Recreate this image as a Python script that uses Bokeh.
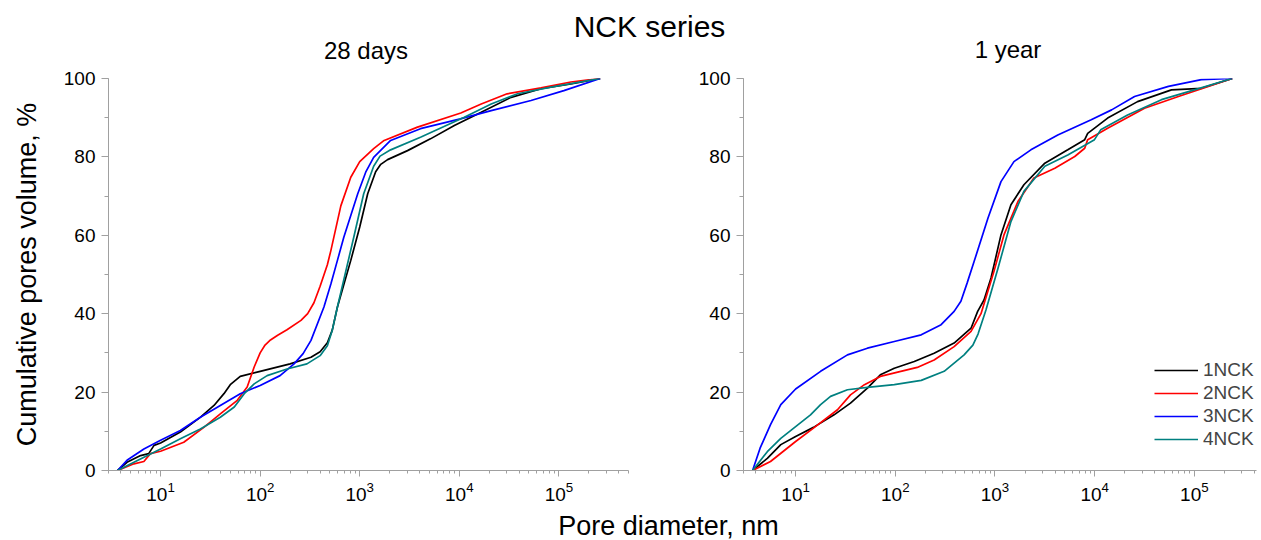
from bokeh.plotting import figure
from bokeh.models import Range1d, SingleIntervalTicker, Label, Legend, LegendItem
from bokeh.layouts import column, row
from bokeh.embed import file_html
from bokeh.resources import INLINE

FONT = "Liberation Sans"

series_names = ["1NCK", "2NCK", "3NCK", "4NCK"]
series_colors = ["#000000", "#ff0000", "#0000ff", "#008080"]

# ---------------- 28 days ----------------
d28_1NCK_d = [3.7, 4.6, 6.3, 7.6, 8.6, 10, 15.8, 25.2, 34.4, 43.3, 50.1, 63.1, 100, 200, 324, 400, 473, 530, 597, 813, 1000, 1202, 1445, 1626, 1905, 3020, 5129, 8913, 16596, 33113, 66069, 131826, 260000]
d28_1NCK_v = [0, 2.1, 3.8, 4.3, 6.4, 7.0, 9.8, 13.6, 16.6, 19.6, 21.9, 24.0, 25.3, 27.2, 28.9, 30.3, 32.6, 35.8, 41.7, 53.6, 62.1, 70.6, 76.2, 78.1, 79.3, 81.6, 84.6, 88.0, 91.4, 95.2, 97.4, 98.6, 100]

d28_2NCK_d = [3.7, 5.4, 6.8, 7.9, 10, 17.1, 27.2, 40.1, 58.9, 74.1, 87.1, 100, 112, 127, 150, 186, 257, 300, 347, 400, 473, 513, 646, 813, 1000, 1380, 1758, 3802, 10351, 16596, 30200, 66069, 131826, 208930, 260000]
d28_2NCK_v = [0, 1.7, 2.3, 4.3, 4.9, 7.2, 11.0, 14.5, 17.9, 21.3, 26.4, 30.0, 32.0, 33.3, 34.5, 35.9, 38.3, 40.0, 42.8, 47.0, 52.5, 56.1, 67.5, 74.8, 78.8, 82.1, 84.2, 87.6, 91.2, 93.5, 96.1, 97.6, 99.1, 99.7, 100]

d28_3NCK_d = [3.7, 4.6, 6.8, 10, 15.8, 25.1, 39.8, 63.1, 100, 158.5, 219, 270, 324, 437, 513, 597, 692, 955, 1148, 1380, 2042, 4074, 10233, 20893, 52481, 112202, 260000]
d28_3NCK_v = [0, 2.6, 5.5, 7.7, 10.2, 13.6, 16.6, 19.6, 21.7, 24.2, 27.2, 29.8, 33.2, 41.7, 47.6, 53.6, 59.5, 70.6, 76.1, 79.9, 84.2, 87.2, 89.7, 91.8, 94.4, 96.9, 100]

d28_4NCK_d = [3.7, 5.4, 10, 15.8, 25.1, 39.8, 55, 69.2, 87.1, 117.5, 186, 295, 400, 473, 530, 597, 871, 1096, 1380, 1600, 2042, 4074, 11220, 20893, 38459, 83176, 260000]
d28_4NCK_v = [0, 2.1, 5.5, 8.1, 10.6, 13.6, 16.2, 19.6, 22.1, 24.2, 25.9, 27.2, 29.3, 31.8, 35.8, 41.7, 59.5, 70.6, 77.6, 80.2, 81.8, 85.0, 90.1, 93.5, 96.1, 97.8, 100]

# ---------------- 1 year ----------------
y1_1NCK_d = [3.7, 5.2, 7.1, 10, 15.1, 24.3, 35.5, 52.5, 70.8, 97.7, 155, 245, 389, 575, 670, 776, 912, 1148, 1445, 1950, 3162, 5370, 7943, 8511, 13490, 26915, 58884, 117490, 240000]
y1_1NCK_v = [0, 3.1, 6.6, 8.7, 11.0, 14.2, 17.2, 21.0, 24.4, 26.1, 27.8, 29.9, 32.5, 36.3, 40.6, 43.5, 49.1, 60.1, 67.8, 72.9, 78.4, 81.8, 84.4, 86.0, 89.9, 94.1, 97.1, 97.5, 100]

y1_2NCK_d = [3.7, 5.6, 10, 15.1, 26.3, 35.5, 49, 70.8, 113.5, 166, 245, 389, 575, 724, 977, 1230, 1698, 2455, 3981, 6310, 7943, 8511, 13490, 31623, 69183, 240000]
y1_2NCK_v = [0, 2.3, 7.4, 10.8, 15.5, 19.3, 21.9, 24.0, 25.3, 26.3, 28.2, 31.6, 35.5, 40.0, 50.8, 60.1, 68.6, 74.6, 77.1, 80.1, 82.2, 84.4, 87.3, 92.4, 95.4, 100]

y1_3NCK_d = [3.7, 4.4, 5.6, 7.1, 10, 17.8, 33.1, 52.5, 97.7, 182, 288, 389, 455, 525, 617, 851, 1148, 1549, 2291, 4266, 9226, 14791, 25119, 54954, 117490, 240000]
y1_3NCK_v = [0, 5.7, 11.7, 16.8, 20.8, 25.3, 29.5, 31.2, 32.9, 34.6, 37.2, 40.6, 43.2, 47.8, 53.3, 64.4, 73.7, 78.8, 81.8, 85.6, 89.5, 92.0, 95.4, 98.0, 99.7, 100]

y1_4NCK_d = [3.7, 5.2, 7.1, 10, 14.1, 17.8, 22.4, 33.1, 52.5, 97.7, 182, 309, 490, 600, 676, 813, 1072, 1445, 1950, 3162, 5370, 9954, 11482, 21380, 46774, 100000, 240000]
y1_4NCK_v = [0, 4.8, 8.2, 11.2, 14.2, 16.8, 18.9, 20.6, 21.2, 21.9, 23.0, 25.3, 29.5, 32.0, 34.8, 41.0, 51.6, 63.5, 71.2, 77.6, 80.5, 84.4, 86.9, 90.7, 94.6, 97.1, 100]

days28 = [(d28_1NCK_d, d28_1NCK_v), (d28_2NCK_d, d28_2NCK_v), (d28_3NCK_d, d28_3NCK_v), (d28_4NCK_d, d28_4NCK_v)]
year1 = [(y1_1NCK_d, y1_1NCK_v), (y1_2NCK_d, y1_2NCK_v), (y1_3NCK_d, y1_3NCK_v), (y1_4NCK_d, y1_4NCK_v)]

y_ticks_interval = 20
AXIS_COLOR = "#a0a0a0"
TICK_FONT = "19px"
LABEL_SHIFT = 8.5  # Label baselines render this much lower than requested


def make_panel(width, x_end, min_left, min_right, data):
    p = figure(width=width, height=444, x_axis_type="log",
               x_range=Range1d(3, x_end), y_range=Range1d(0, 100),
               toolbar_location=None, output_backend="svg",
               min_border_left=min_left, min_border_right=min_right,
               min_border_top=12, min_border_bottom=40)
    p.outline_line_color = None
    p.grid.visible = False
    p.background_fill_color = "white"
    p.border_fill_color = "white"
    p.yaxis.ticker = SingleIntervalTicker(interval=y_ticks_interval, num_minor_ticks=2)
    for ax in [p.xaxis[0], p.yaxis[0]]:
        ax.axis_line_color = AXIS_COLOR
        ax.major_tick_line_color = AXIS_COLOR
        ax.minor_tick_line_color = AXIS_COLOR
        ax.major_tick_in = 0
        ax.minor_tick_in = 0
        ax.major_label_text_font = FONT
        ax.major_label_text_font_size = TICK_FONT
        ax.major_label_text_color = "black"
        ax.axis_label_text_font = FONT
        ax.axis_label_text_font_style = "normal"
        ax.axis_label_text_color = "black"
    p.yaxis.major_tick_out = 7
    p.yaxis.minor_tick_out = 4
    p.yaxis.major_label_standoff = 6
    p.xaxis.major_tick_out = 6
    p.xaxis.minor_tick_out = 3
    p.xaxis.major_label_standoff = 5
    renderers = []
    for (d, v), c in zip(data, series_colors):
        r = p.line(d, v, line_color=c, line_width=1.7)
        renderers.append(r)
    return p, renderers


p1, r1 = make_panel(688, 5e5, 108, 60, days28)
p1.yaxis.axis_label = "Cumulative pores volume, %"
p1.yaxis.axis_label_text_font_size = "27px"
p1.yaxis.axis_label_standoff = 19

p2, r2 = make_panel(572, 4.2e5, 55, 4, year1)

legend = Legend(items=[LegendItem(label=n, renderers=[r]) for n, r in zip(series_names, r2)],
                location=(411, 20), orientation="vertical",
                border_line_color=None, background_fill_alpha=0,
                label_text_font=FONT, label_text_font_size="19px",
                glyph_width=44, glyph_height=22, label_height=22,
                label_standoff=5, spacing=1, padding=0, margin=0)
p2.add_layout(legend)


def text_strip(width, height):
    s = figure(width=width, height=height, x_range=Range1d(0, width), y_range=Range1d(0, height),
               toolbar_location=None, output_backend="svg", min_border=0)
    s.outline_line_color = None
    s.axis.visible = False
    s.grid.visible = False
    s.background_fill_color = "white"
    s.border_fill_color = "white"
    return s


def add_text(fig, x, base_from_bottom, txt, size):
    fig.add_layout(Label(x=x, y=base_from_bottom + LABEL_SHIFT, x_units="screen", y_units="screen",
                         text=txt, text_font=FONT, text_font_size=size, text_align="center",
                         text_baseline="alphabetic", text_color="black"))


header = text_strip(1260, 66)
add_text(header, 649, 31.7, "NCK series", "30px")
add_text(header, 365.5, 7.7, "28 days", "24px")
add_text(header, 1007.5, 9.0, "1 year", "24px")

footer = text_strip(1260, 29)
add_text(footer, 668, 5.5, "Pore diameter, nm", "27px")

layout = column(header, row(p1, p2, spacing=0), footer, spacing=0)

open("out.html", "w").write(file_html(layout, INLINE))
